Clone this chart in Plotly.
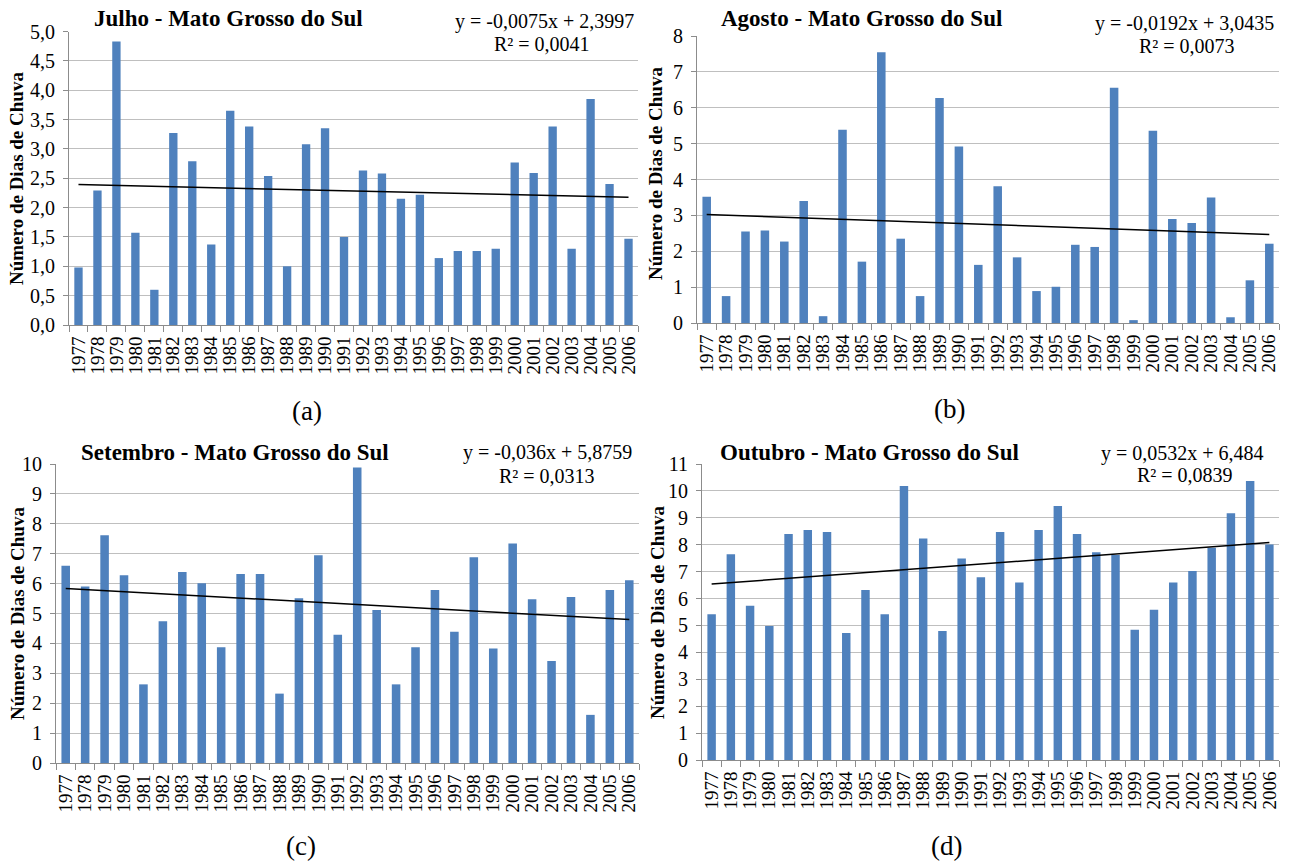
import plotly.graph_objects as go

years = [str(y) for y in range(1977, 2007)]

julho = [0.98, 2.29, 4.83, 1.57, 0.60, 3.27, 2.79, 1.37, 3.65, 3.38,
         2.54, 1.00, 3.08, 3.35, 1.50, 2.63, 2.58, 2.15, 2.22, 1.14,
         1.26, 1.26, 1.30, 2.77, 2.59, 3.38, 1.30, 3.85, 2.40, 1.47]
agosto = [3.52, 0.75, 2.55, 2.58, 2.27, 3.40, 0.19, 5.39, 1.71, 7.55,
          2.35, 0.75, 6.27, 4.92, 1.62, 3.81, 1.83, 0.89, 1.01, 2.18,
          2.12, 6.56, 0.08, 5.36, 2.90, 2.79, 3.50, 0.16, 1.19, 2.21]
setembro = [6.60, 5.90, 7.62, 6.28, 2.63, 4.74, 6.39, 6.01, 3.87, 6.32,
            6.32, 2.32, 5.51, 6.95, 4.29, 9.88, 5.12, 2.63, 3.87, 5.79,
            4.39, 6.88, 3.83, 7.34, 5.48, 3.41, 5.55, 1.61, 5.79, 6.11]
outubro = [5.42, 7.65, 5.73, 4.98, 8.40, 8.55, 8.47, 4.72, 6.32, 5.42,
           10.18, 8.23, 4.79, 7.49, 6.79, 8.47, 6.60, 8.55, 9.44, 8.40,
           7.72, 7.62, 4.84, 5.58, 6.60, 7.02, 7.89, 9.17, 10.37, 8.01]

titles = ["Julho - Mato Grosso do Sul", "Agosto - Mato Grosso do Sul",
          "Setembro - Mato Grosso do Sul", "Outubro - Mato Grosso do Sul"]
slopes = [-0.0075, -0.0192, -0.036, 0.0532]
intercepts = [2.3997, 3.0435, 5.8759, 6.484]
equations = ["y = -0,0075x + 2,3997", "y = -0,0192x + 3,0435",
             "y = -0,036x + 5,8759", "y = 0,0532x + 6,484"]
r2_labels = ["R² = 0,0041", "R² = 0,0073", "R² = 0,0313", "R² = 0,0839"]
panel_labels = ["(a)", "(b)", "(c)", "(d)"]
y_max = [5, 8, 10, 11]
y_dtick = [0.5, 1, 1, 1]
y_fmt = [".1f", "d", "d", "d"]
series = [julho, agosto, setembro, outubro]

W, H = 1289, 861
FONT = "Liberation Serif, Times New Roman, serif"
BLUE = "#4F81BD"
GRID = "#BFBFBF"
AXC = "#8C8C8C"

# plot area boxes in pixels: left, right, top, bottom
boxes = [(69, 638, 31.5, 325), (697, 1279, 36, 323),
         (56, 639, 464, 763), (702, 1279, 464, 760)]
# text positions (pixels)
title_pos = [(92, 18), (719, 18), (79, 452), (718, 452)]
eq_pos = [(636, 21), (1276, 24), (634, 452), (1266, 453)]
r2_pos = [(542, 44), (1187, 46), (547, 476), (1185, 475)]
ytitle_pos = [(16, 179), (655, 174), (17, 614), (657, 613)]
plabel_pos = [(307, 411), (949, 409), (301, 846), (946, 846)]

def px(x):
    return x / W

def py(y):
    return 1 - y / H

fig = go.Figure()
annotations = []
for i in range(4):
    l, r, t, b = boxes[i]
    ax = "" if i == 0 else str(i + 1)
    xa, ya = "x" + ax, "y" + ax
    fig.add_trace(go.Bar(x=years, y=series[i], marker_color=BLUE,
                         marker_line_width=0, xaxis=xa, yaxis=ya,
                         showlegend=False))
    trend = [slopes[i] * (k + 1) + intercepts[i] for k in range(len(years))]
    fig.add_trace(go.Scatter(x=years, y=trend, mode="lines",
                             line=dict(color="black", width=1.5),
                             xaxis=xa, yaxis=ya, showlegend=False))
    fig.layout["xaxis" + ax] = dict(
        domain=[px(l), px(r)], anchor=ya, type="category",
        tickmode="array", tickvals=years, ticktext=years,
        tickangle=-90, tickfont=dict(family=FONT, size=19, color="black"),
        ticks="outside", tickson="boundaries", ticklen=6, tickcolor=AXC,
        ticklabelstandoff=3,
        showline=True, linecolor=AXC, linewidth=1, showgrid=False,
        range=[-0.5, 29.5], automargin=False)
    fig.layout["yaxis" + ax] = dict(
        domain=[py(b), py(t)], anchor=xa, range=[0, y_max[i]],
        dtick=y_dtick[i], tick0=0, tickformat=y_fmt[i],
        tickfont=dict(family=FONT, size=20, color="black"),
        ticks="outside", ticklen=5, tickcolor=AXC, ticklabelstandoff=4,
        showline=True, linecolor=AXC, linewidth=1,
        showgrid=True, gridcolor=GRID, gridwidth=1, zeroline=False,
        automargin=False)
    annotations.append(dict(x=px(title_pos[i][0]), y=py(title_pos[i][1]),
                            xref="paper", yref="paper", xanchor="left",
                            yanchor="middle", showarrow=False,
                            text="<b>" + titles[i] + "</b>",
                            font=dict(family=FONT, size=23, color="black")))
    annotations.append(dict(x=px(eq_pos[i][0]), y=py(eq_pos[i][1]),
                            xref="paper", yref="paper", xanchor="right",
                            yanchor="middle", showarrow=False,
                            text=equations[i],
                            font=dict(family=FONT, size=20, color="black")))
    annotations.append(dict(x=px(r2_pos[i][0]), y=py(r2_pos[i][1]),
                            xref="paper", yref="paper", xanchor="center",
                            yanchor="middle", showarrow=False,
                            text=r2_labels[i],
                            font=dict(family=FONT, size=20, color="black")))
    annotations.append(dict(x=px(ytitle_pos[i][0]), y=py(ytitle_pos[i][1]),
                            xref="paper", yref="paper", xanchor="center",
                            yanchor="middle", showarrow=False, textangle=-90,
                            text="<b>Número de Dias de Chuva</b>",
                            font=dict(family=FONT, size=19, color="black")))
    annotations.append(dict(x=px(plabel_pos[i][0]), y=py(plabel_pos[i][1]),
                            xref="paper", yref="paper", xanchor="center",
                            yanchor="middle", showarrow=False,
                            text=panel_labels[i],
                            font=dict(family=FONT, size=27, color="black")))

fig.update_layout(template="none", width=W, height=H,
                  margin=dict(l=0, r=0, t=0, b=0, autoexpand=False),
                  paper_bgcolor="white", plot_bgcolor="white",
                  bargap=0.56, separators=",.", annotations=annotations,
                  font=dict(family=FONT, color="black"))

fig.write_html("out.html", config={"displayModeBar": False},
               post_script="document.body.style.margin='0';"
                           "document.body.style.overflow='hidden';")
